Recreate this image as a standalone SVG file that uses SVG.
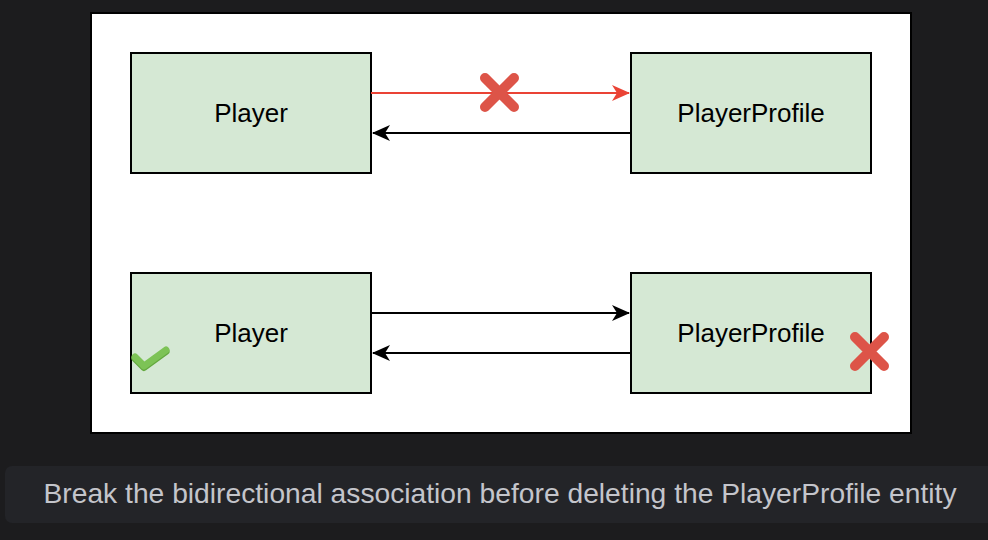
<svg xmlns="http://www.w3.org/2000/svg" width="988" height="540" viewBox="0 0 988 540">
<style>
.node{fill:#d5e8d4;stroke:#000;stroke-width:2}
.lbl{font-family:"Liberation Sans",Arial,sans-serif;font-size:26px;fill:#000;text-anchor:middle}
.edge{fill:none;stroke:#000;stroke-width:2}
.red{stroke:#ea4335}
.x{stroke:#dd5448;stroke-width:10;stroke-linecap:round}
</style>
<defs>
<marker id="ah" viewBox="0 0 18 18" refX="17" refY="9" markerWidth="18" markerHeight="18" markerUnits="userSpaceOnUse" orient="auto">
<path d="M0,1 L18,9 L0,17 L5,9 Z" fill="#000"/>
</marker>
<marker id="ahr" viewBox="0 0 18 18" refX="17" refY="9" markerWidth="18" markerHeight="18" markerUnits="userSpaceOnUse" orient="auto">
<path d="M0,1 L18,9 L0,17 L5,9 Z" fill="#ea4335"/>
</marker>
</defs>
<rect width="988" height="540" fill="#1c1c1e"/>
<rect x="91" y="13" width="820" height="420" fill="#fff" stroke="#000" stroke-width="2"/>
<g id="player1"><rect class="node" x="131" y="53" width="240" height="120"/><text class="lbl" x="251" y="122">Player</text></g>
<g id="profile1"><rect class="node" x="631" y="53" width="240" height="120"/><text class="lbl" x="751" y="122">PlayerProfile</text></g>
<g id="player2"><rect class="node" x="131" y="273" width="240" height="120"/><text class="lbl" x="251" y="342">Player</text></g>
<g id="profile2"><rect class="node" x="631" y="273" width="240" height="120"/><text class="lbl" x="751" y="342">PlayerProfile</text></g>
<g id="connectors">
<path class="edge red" d="M371,93 L629,93" marker-end="url(#ahr)"/>
<path class="edge" d="M631,133 L373,133" marker-end="url(#ah)"/>
<path class="edge" d="M371,313 L629,313" marker-end="url(#ah)"/>
<path class="edge" d="M631,353 L373,353" marker-end="url(#ah)"/>
</g>
<g id="cross1"><path class="x" d="M485,78 L514,107 M514,78 L485,107"/></g>
<g id="cross2"><path class="x" d="M855,337 L884,366 M884,337 L855,366"/></g>
<g id="check"><path d="M135,357 L144,366 L166,350" fill="none" stroke="#63a83e" stroke-width="7" stroke-linecap="round" stroke-linejoin="round" transform="translate(0,1.5)"/><path d="M135,357 L144,366 L166,350" fill="none" stroke="#7dc356" stroke-width="7" stroke-linecap="round" stroke-linejoin="round"/></g>
<g id="caption">
<rect x="5" y="466" width="1000" height="57" rx="7" fill="#232428"/>
<text x="500" y="503" font-family="Liberation Sans,Arial,sans-serif" font-size="28" fill="#c4c5cb" text-anchor="middle" textLength="913" lengthAdjust="spacingAndGlyphs">Break the bidirectional association before deleting the PlayerProfile entity</text>
</g>
</svg>
